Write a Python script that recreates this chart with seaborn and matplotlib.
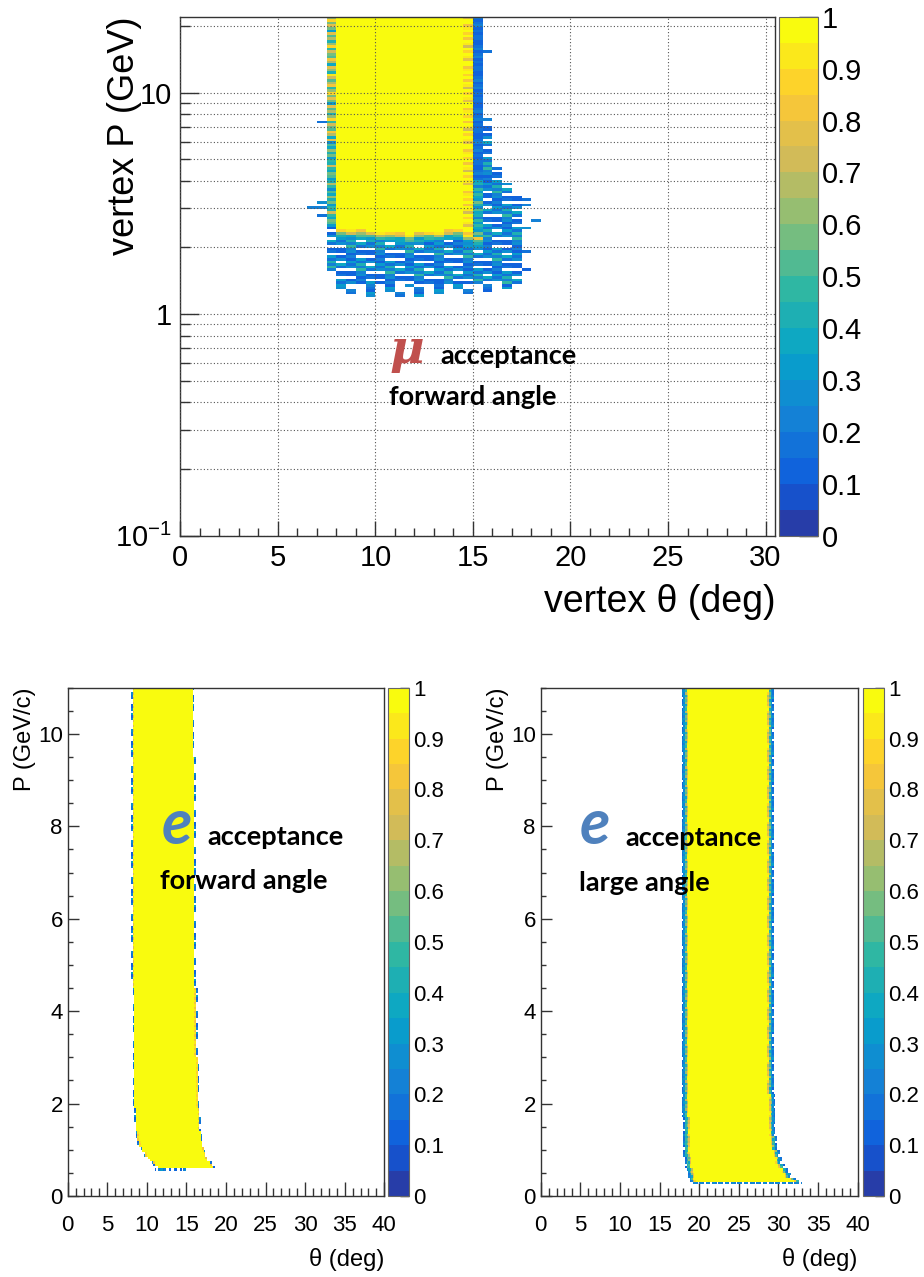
import numpy as np
import matplotlib
matplotlib.use('Agg')
import matplotlib.pyplot as plt
import seaborn as sns
from matplotlib.colors import LinearSegmentedColormap, ListedColormap

sns.set_style('white')
plt.rcParams['font.family'] = ['Liberation Sans', 'DejaVu Sans']
plt.rcParams['mathtext.fontset'] = 'custom'
plt.rcParams['mathtext.rm'] = 'Liberation Sans'
plt.rcParams['mathtext.it'] = 'Liberation Sans:italic'
plt.rcParams['mathtext.bf'] = 'Liberation Sans:bold'
plt.rcParams['text.color'] = 'black'
plt.rcParams['axes.labelcolor'] = 'black'
plt.rcParams['xtick.labelcolor'] = 'black'
plt.rcParams['ytick.labelcolor'] = 'black'

nan = np.nan

# ROOT "bird" palette, drawn with 20 contour levels
bird_stops = [0.0, 0.125, 0.25, 0.375, 0.5, 0.625, 0.75, 0.875, 1.0]
bird_red = [0.2082, 0.0592, 0.0780, 0.0232, 0.1802, 0.5301, 0.8186, 0.9956, 0.9764]
bird_green = [0.1664, 0.3599, 0.5041, 0.6419, 0.7178, 0.7492, 0.7328, 0.7862, 0.9832]
bird_blue = [0.5293, 0.8684, 0.8385, 0.7914, 0.6425, 0.4662, 0.3499, 0.1968, 0.0539]
n_levels = 20

cbar_ticks = [0.0, 0.1, 0.2, 0.3, 0.4, 0.5, 0.6, 0.7, 0.8, 0.9, 1.0]
cbar_labels = ['0', '0.1', '0.2', '0.3', '0.4', '0.5', '0.6', '0.7', '0.8', '0.9', '1']

# ---------------- muon acceptance, forward angle (top) ----------------
mu_theta_max = 30.5
mu_dtheta = 0.5
mu_p_lo, mu_p_hi = 0.1, 22.0
mu_n_p = 200

mu_xticks = [0, 5, 10, 15, 20, 25, 30]
mu_yticks = [0.1, 1, 10]
mu_yticklabels = [r'$10^{-1}$', '1', '10']
mu_yminor = [0.2, 0.3, 0.4, 0.5, 0.6, 0.7, 0.8, 0.9, 2, 3, 4, 5, 6, 7, 8, 9, 20]

# columns with entries (left bin edge in deg)
mu_cols = [7.5, 8.0, 8.5, 9.0, 9.5, 10.0, 10.5, 11.0, 11.5, 12.0, 12.5, 13.0, 13.5,
           14.0, 14.5, 15.0, 15.5, 16.0, 16.5, 17.0]
mu_kind = ['mixed', 'full', 'full', 'full', 'full', 'full', 'full', 'full', 'full', 'full',
           'full', 'full', 'full', 'full', 'orange', 'blue', 'fringe', 'fringe', 'fringe', 'fringe']
mu_pmax = [22, 22, 22, 22, 22, 22, 22, 22, 22, 22, 22, 22, 22, 22, 22, 22, 7.0, 4.6, 3.9, 3.5]
mu_pfull = [2.45, 2.42, 2.4, 2.38, 2.36, 2.33, 2.33, 2.32, 2.3, 2.32, 2.34, 2.36, 2.38, 2.42,
            2.3, 2.2, nan, nan, nan, nan]
mu_pmin = [1.55, 1.25, 1.22, 1.2, 1.2, 1.22, 1.2, 1.18, 1.2, 1.2, 1.22, 1.2, 1.25, 1.22,
           1.22, 1.2, 1.25, 1.3, 1.3, 1.35]

mu_tex_mixed_hi = [0.75, 0.55, 0.85, 0.6, 0.45, 0.8, 0.65, 0.5, 0.7, 0.9, 0.4, 0.6, 0.75, 0.35,
                   0.65, 0.8, 0.5, 0.55, 0.7, 0.45, 0.85, 0.6, 0.4, 0.65, 0.5, 0.75, 0.3, 0.55]
mu_tex_mixed_lo = [0.45, 0.3, 0.55, 0.4, 0.6, 0.35, 0.5, 0.25, 0.45, 0.65, 0.4, 0.3, 0.5, 0.55,
                   0.35, 0.45, 0.7, 0.4]
mu_tex_orange = [0.95, 0.85, 1.0, 0.9, 0.8, 1.0, 0.95, 0.75, 0.9, 1.0, 0.85, 0.95, 0.7, 0.9, 1.0, 0.8]
mu_tex_blue = [0.15, 0.12, 0.18, 0.1, 0.2, 0.15, 0.12, 0.22, 0.16, 0.1, 0.14, 0.19]
mu_tex_teal = [0.3, 0.45, 0.2, 0.4, 0.35, 0.5, 0.25, 0.4, 0.55, 0.3, 0.35, 0.45]
mu_tex_fringe = [0.2, 0.1, nan, 0.3, 0.15, 0.25, 0.1, 0.4, nan, 0.18, 0.12, 0.35, 0.22, nan,
                 0.15, 0.28, 0.1, 0.2, nan, 0.45, 0.12, 0.3, 0.18, nan, 0.1, 0.25]
mu_tex_sparse = [nan, 0.15, nan, nan, 0.25, nan, 0.1, nan, 0.2, nan, nan, 0.3]
# rows just below the full block, columns 8.0 .. 15.0
mu_trans = [
    [0.85, 0.9, 0.8, 0.75, 0.9, 0.85, 0.8, 0.9, 0.75, 0.85, 0.9, 0.8, 0.85, 0.9, 0.8],
    [0.55, 0.7, 0.6, 0.5, 0.65, 0.6, 0.7, 0.55, 0.6, 0.5, 0.65, 0.7, 0.55, 0.6, 0.5],
    [0.4, 0.35, 0.5, 0.3, 0.45, 0.4, 0.35, 0.5, 0.3, 0.45, 0.4, 0.35, 0.45, 0.3, 0.4],
    [0.3, 0.25, 0.35, 0.4, 0.2, 0.3, 0.35, 0.25, 0.4, 0.3, 0.2, 0.35, 0.3, 0.25, 0.3],
]
# isolated entries
mu_out_theta = [6.5, 7.0, 7.0, 7.0, 7.0, 15.5, 15.5, 17.5, 17.5, 17.5, 17.5, 18.0, 17.5]
mu_out_p = [3.06, 7.4, 3.2, 3.06, 2.8, 15.1, 7.5, 3.3, 3.1, 2.45, 1.9, 2.65, 1.6]
mu_out_val = [0.2, 0.15, 0.25, 0.2, 0.15, 0.15, 0.2, 0.15, 0.2, 0.25, 0.15, 0.2, 0.1]

# ---------------- electron acceptance (bottom) ----------------
e_dtheta = 0.2
e_dp = 0.05
e_theta_max = 40.0
e_p_max = 11.0
e_xticks = [0, 5, 10, 15, 20, 25, 30, 35, 40]
e_yticks = [0, 2, 4, 6, 8, 10]

# forward angle: outer band edges (deg) from each momentum node upward
ef_p = [0.55, 0.60, 0.65, 0.70, 0.75, 0.80, 0.87, 0.95, 1.05, 1.2, 1.4, 1.6, 1.9, 2.3, 3.0, 4.5, 7.0, 9.5]
ef_lo = [11.0, 11.2, 10.9, 10.6, 10.3, 10.0, 9.6, 9.2, 8.9, 8.7, 8.5, 8.35, 8.25, 8.2, 8.15, 8.1, 8.1, 8.1]
ef_hi = [15.0, 18.5, 18.3, 18.1, 17.9, 17.7, 17.5, 17.3, 17.2, 17.05, 16.9, 16.8, 16.65, 16.5,
         16.35, 16.2, 16.1, 16.0]

# large angle
er_p = [0.25, 0.30, 0.35, 0.40, 0.50, 0.60, 0.70, 0.85, 1.0, 1.3, 1.7, 2.2]
er_lo = [19.0, 18.9, 18.7, 18.6, 18.4, 18.3, 18.2, 18.1, 18.0, 17.95, 17.9, 17.85]
er_hi = [32.9, 32.7, 32.2, 31.7, 31.2, 30.8, 30.4, 30.1, 29.9, 29.7, 29.5, 29.35]

e_tex_edge = [0.15, nan, 0.2, 0.1, nan, 0.25, nan, 0.12, 0.3, nan, nan, 0.18, 0.1, nan, 0.22, nan]
e_tex_inner = [0.9, 1.0, 0.8, 1.0, 0.95, 0.85, 1.0, 0.9, 0.75, 1.0]
er_tex_edge = [0.15, 0.2, nan, 0.1, 0.25, 0.12, 0.18, 0.2, 0.3, 0.1, nan, 0.15]
er_tex_teal = [0.3, 0.4, 0.25, 0.45, 0.35, 0.2, 0.5, 0.3, 0.4, 0.25]
er_tex_green = [0.5, 0.4, 0.6, 0.45, 0.55, 0.35, 0.65, 0.5]
er_tex_orange = [0.75, 0.85, 0.7, 0.9, 0.65, 0.8, 0.95, 0.75]


def cycle(tex, k):
    return tex[k % len(tex)]


# ---- build the muon histogram ----
bird = LinearSegmentedColormap.from_list(
    'bird', list(zip(bird_stops, zip(bird_red, bird_green, bird_blue))))
cmap20 = ListedColormap(bird(np.arange(1, n_levels + 1) / n_levels))

mu_log_edges = np.linspace(np.log10(mu_p_lo), np.log10(mu_p_hi), mu_n_p + 1)
mu_dlog = mu_log_edges[1] - mu_log_edges[0]
mu_pc = 10 ** (0.5 * (mu_log_edges[:-1] + mu_log_edges[1:]))
mu = np.full((mu_n_p, int(round(mu_theta_max / mu_dtheta))), nan)

for c, th in enumerate(mu_cols):
    j = int(round(th / mu_dtheta))
    kind = mu_kind[c]
    i_full = np.searchsorted(mu_pc, mu_pfull[c]) if kind != 'fringe' else mu_n_p
    for i, p in enumerate(mu_pc):
        if p < mu_pmin[c] or p > mu_pmax[c]:
            continue
        k = i * 7 + c * 11
        low_tex = mu_tex_sparse if p < 1.35 else mu_tex_fringe
        if i >= i_full:
            if kind == 'full':
                mu[i, j] = 1.0
            elif kind == 'orange':
                mu[i, j] = cycle(mu_tex_orange, i)
            elif kind == 'blue':
                mu[i, j] = cycle(mu_tex_blue, i) if p > 4 else cycle(mu_tex_teal, i)
            else:
                mu[i, j] = cycle(mu_tex_mixed_hi, i) if p > 6 else cycle(mu_tex_mixed_lo, i)
        else:
            d = i_full - 1 - i
            if kind in ('full', 'orange', 'blue') and d < len(mu_trans):
                mu[i, j] = mu_trans[d][c - 1]
            else:
                mu[i, j] = cycle(low_tex, k)

for th, p, v in zip(mu_out_theta, mu_out_p, mu_out_val):
    mu[np.searchsorted(mu_log_edges, np.log10(p)) - 1, int(round(th / mu_dtheta))] = v


# ---- build the electron histograms ----
def band_grid(p_nodes, lo, hi, zones):
    n_th = int(round(e_theta_max / e_dtheta))
    n_p = int(round(e_p_max / e_dp))
    th_c = (np.arange(n_th) + 0.5) * e_dtheta
    p_c = (np.arange(n_p) + 0.5) * e_dp
    grid = np.full((n_p, n_th), nan)
    for i, p in enumerate(p_c):
        k = np.searchsorted(p_nodes, p, side='right') - 1
        if k < 0:
            continue
        inside = np.where((th_c >= lo[k]) & (th_c <= hi[k]))[0]
        jlo, jhi = inside[0], inside[-1]
        for j in range(jlo, jhi + 1):
            if k == 0:
                grid[i, j] = cycle(zones[0], i * 5 + j * 3)
                continue
            d = min(j - jlo, jhi - j)
            side = 0 if j - jlo <= jhi - j else 7
            grid[i, j] = cycle(zones[d], i * 5 + j * 3 + side) if d < len(zones) else 1.0
    return grid


ef = band_grid(ef_p, ef_lo, ef_hi, [e_tex_edge, e_tex_inner])
er = band_grid(er_p, er_lo, er_hi, [er_tex_edge, er_tex_teal, er_tex_green, er_tex_orange])

# ---------------- figure ----------------
W, H = 924, 1277
fig = plt.figure(figsize=(W / 100, H / 100), dpi=100)


def box(x0, y0, x1, y1):
    return [x0 / W, 1 - y1 / H, (x1 - x0) / W, (y1 - y0) / H]


ax_mu = fig.add_axes(box(180.3, 16.7, 775.3, 535.7))
cax_mu = fig.add_axes(box(779.3, 16.7, 817.7, 535.7))
ax_ef = fig.add_axes(box(67.7, 687.7, 384.3, 1196))
cax_ef = fig.add_axes(box(388, 687.7, 409, 1196))
ax_er = fig.add_axes(box(540.7, 687.7, 857.7, 1196))
cax_er = fig.add_axes(box(863, 687.7, 884.3, 1196))

frame_col = '#333333'


def draw(ax, cax, grid, tick_size, cb_len):
    sns.heatmap(grid, ax=ax, cbar_ax=cax, cmap=cmap20, vmin=0, vmax=1,
                xticklabels=False, yticklabels=False, linewidths=0)
    ax.set_ylim(0, grid.shape[0])
    ax.set_xlim(0, grid.shape[1])
    for s in ax.spines.values():
        s.set_visible(True)
        s.set_color(frame_col)
        s.set_linewidth(1.0)
    cb = ax.collections[0].colorbar
    cb.set_ticks(cbar_ticks, labels=cbar_labels)
    cb.minorticks_off()
    cb.outline.set_linewidth(0.8)
    cb.outline.set_edgecolor('#666666')
    cax.tick_params(axis='y', which='both', direction='in', length=cb_len, width=1,
                    color='#111111', right=True, left=False, labelright=True,
                    labelleft=False, labelsize=tick_size, pad=3, labelcolor='black')


# top panel
draw(ax_mu, cax_mu, mu, 21, 13.5)


def mu_y(p):
    return (np.log10(p) - np.log10(mu_p_lo)) / mu_dlog


ax_mu.set_xticks([t / mu_dtheta for t in mu_xticks], labels=[str(t) for t in mu_xticks])
ax_mu.set_xticks([t / mu_dtheta for t in range(0, 31)], minor=True)
ax_mu.set_yticks([mu_y(p) for p in mu_yticks], labels=mu_yticklabels)
ax_mu.set_yticks([mu_y(p) for p in mu_yminor], minor=True)
ax_mu.tick_params(axis='x', which='major', direction='in', length=11, width=1, color=frame_col,
                  bottom=True, top=False, labelsize=21, pad=6, labelrotation=0)
ax_mu.tick_params(axis='x', which='minor', direction='in', length=5.5, width=1, color=frame_col,
                  bottom=True, top=False)
ax_mu.tick_params(axis='y', which='major', direction='in', length=13.5, width=1, color=frame_col,
                  left=True, right=False, labelsize=21, pad=6, labelrotation=0)
ax_mu.tick_params(axis='y', which='minor', direction='in', length=7, width=1, color=frame_col,
                  left=True, right=False)
ax_mu.set_axisbelow(False)
ax_mu.grid(True, which='major', axis='x', color='#555555', linestyle=(0, (1, 2)), linewidth=0.8)
ax_mu.grid(True, which='both', axis='y', color='#555555', linestyle=(0, (1, 2)), linewidth=0.8)
ax_mu.set_xlabel('vertex θ (deg)', fontsize=27, loc='right')
ax_mu.xaxis.set_label_coords(1.0, -0.094)
ax_mu.set_ylabel('vertex P (GeV)', fontsize=26, loc='top')
ax_mu.yaxis.set_label_coords(-0.064, 1.0)

# bottom panels
for ax, cax, grid in [(ax_ef, cax_ef, ef), (ax_er, cax_er, er)]:
    draw(ax, cax, grid, 16, 6.5)
    ax.set_xticks([t / e_dtheta for t in e_xticks], labels=[str(t) for t in e_xticks])
    ax.set_xticks([t / e_dtheta for t in range(0, 41)], minor=True)
    ax.set_yticks([p / e_dp for p in e_yticks], labels=[str(p) for p in e_yticks])
    ax.set_yticks([p / e_dp for p in np.arange(0, 11.01, 0.5)], minor=True)
    ax.tick_params(axis='x', which='major', direction='in', length=10, width=1, color=frame_col,
                   bottom=True, top=False, labelsize=16, pad=14, labelrotation=0)
    ax.tick_params(axis='x', which='minor', direction='in', length=5.5, width=1, color=frame_col,
                   bottom=True, top=False)
    ax.tick_params(axis='y', which='major', direction='in', length=8, width=1, color=frame_col,
                   left=True, right=False, labelsize=16, pad=3.5, labelrotation=0)
    ax.tick_params(axis='y', which='minor', direction='in', length=3.6, width=1, color=frame_col,
                   left=True, right=False)
    ax.set_xlabel('θ (deg)', fontsize=17, loc='right')
    ax.xaxis.set_label_coords(1.0, -0.102)
    ax.set_ylabel('P (GeV/c)', fontsize=17, loc='top')
    ax.yaxis.set_label_coords(-0.101, 1.0)


# annotations
def ftext(x, y, s, **kw):
    fig.text(x / W, 1 - y / H, s, va='center', **kw)


word_kw = dict(fontsize=19.5, fontweight='bold', family=['Lato', 'DejaVu Sans'], color='black')
ftext(407, 350, 'μ', ha='center', fontsize=34, fontweight='bold', style='italic',
      family=['DejaVu Serif'], color='#c0504d')
ftext(440, 356, 'acceptance', ha='left', **word_kw)
ftext(389, 397, 'forward angle', ha='left', **word_kw)

e_kw = dict(ha='center', fontsize=45, fontweight='bold', style='italic',
            family=['Lato', 'DejaVu Sans'], color='#4f81bd')
ftext(177, 826, 'e', **e_kw)
ftext(207, 837, 'acceptance', ha='left', **word_kw)
ftext(160, 881, 'forward angle', ha='left', **word_kw)

ftext(595, 826, 'e', **e_kw)
ftext(625, 838, 'acceptance', ha='left', **word_kw)
ftext(579, 883, 'large angle', ha='left', **word_kw)

fig.savefig('out.png', dpi=100, facecolor='white')
